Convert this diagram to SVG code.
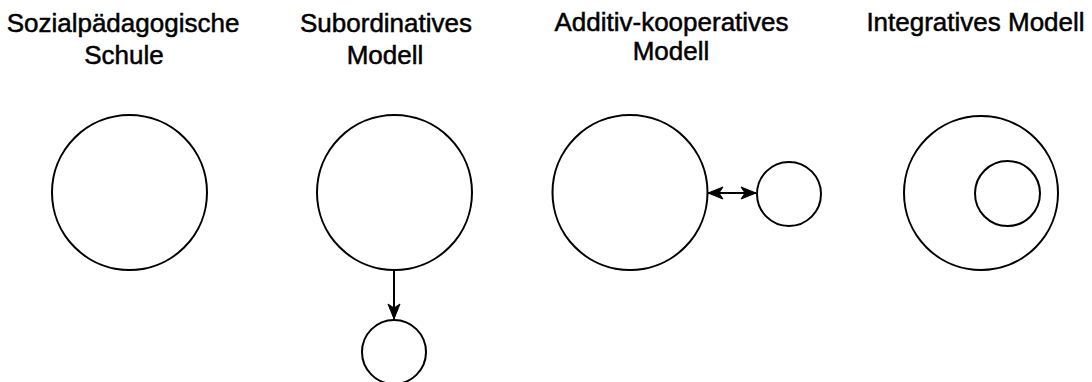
<svg xmlns="http://www.w3.org/2000/svg" width="1092" height="382" viewBox="0 0 1092 382">
<defs>
<style>
.c{fill:#fff;stroke:#000;stroke-width:2}
.t{font-family:"Liberation Sans",Arial,Helvetica,sans-serif;font-size:26px;fill:#000;stroke:#000;stroke-width:0.5;text-anchor:middle}
.e{stroke:#000;stroke-width:2;fill:none}
</style>
<marker id="ah" viewBox="0 0 17 14" refX="16" refY="7" markerWidth="17" markerHeight="14" markerUnits="userSpaceOnUse" orient="auto-start-reverse">
<path d="M16,7 L1,1 L5,7 L1,13 Z" fill="#000" stroke="#000" stroke-width="1"/>
</marker>
</defs>
<rect width="1092" height="382" fill="#fff"/>
<g id="n1">
<text class="t" x="123" y="32">Sozialpädagogische</text>
<text class="t" x="124" y="64">Schule</text>
<circle class="c" cx="129.5" cy="192.5" r="77.5"/>
</g>
<g id="n2">
<text class="t" x="386" y="32">Subordinatives</text>
<text class="t" x="385" y="64">Modell</text>
<circle class="c" cx="394.5" cy="192.5" r="77.5"/>
</g>
<g id="n2b">
<circle class="c" cx="394" cy="352" r="32"/>
</g>
<g id="n3">
<text class="t" x="671.5" y="31">Additiv-kooperatives</text>
<text class="t" x="671" y="60">Modell</text>
<circle class="c" cx="630" cy="192.5" r="77.5"/>
</g>
<g id="n3b">
<circle class="c" cx="789" cy="194" r="32"/>
</g>
<g id="n4">
<text class="t" x="975.5" y="31">Integratives Modell</text>
<circle class="c" cx="981" cy="193" r="77"/>
<circle class="c" cx="1007.5" cy="193.5" r="32.5"/>
</g>
<g id="connectors">
<line class="e" x1="394" y1="270" x2="394" y2="319" marker-end="url(#ah)"/>
<line class="e" x1="708" y1="193" x2="756" y2="193" marker-start="url(#ah)" marker-end="url(#ah)"/>
</g>
</svg>
